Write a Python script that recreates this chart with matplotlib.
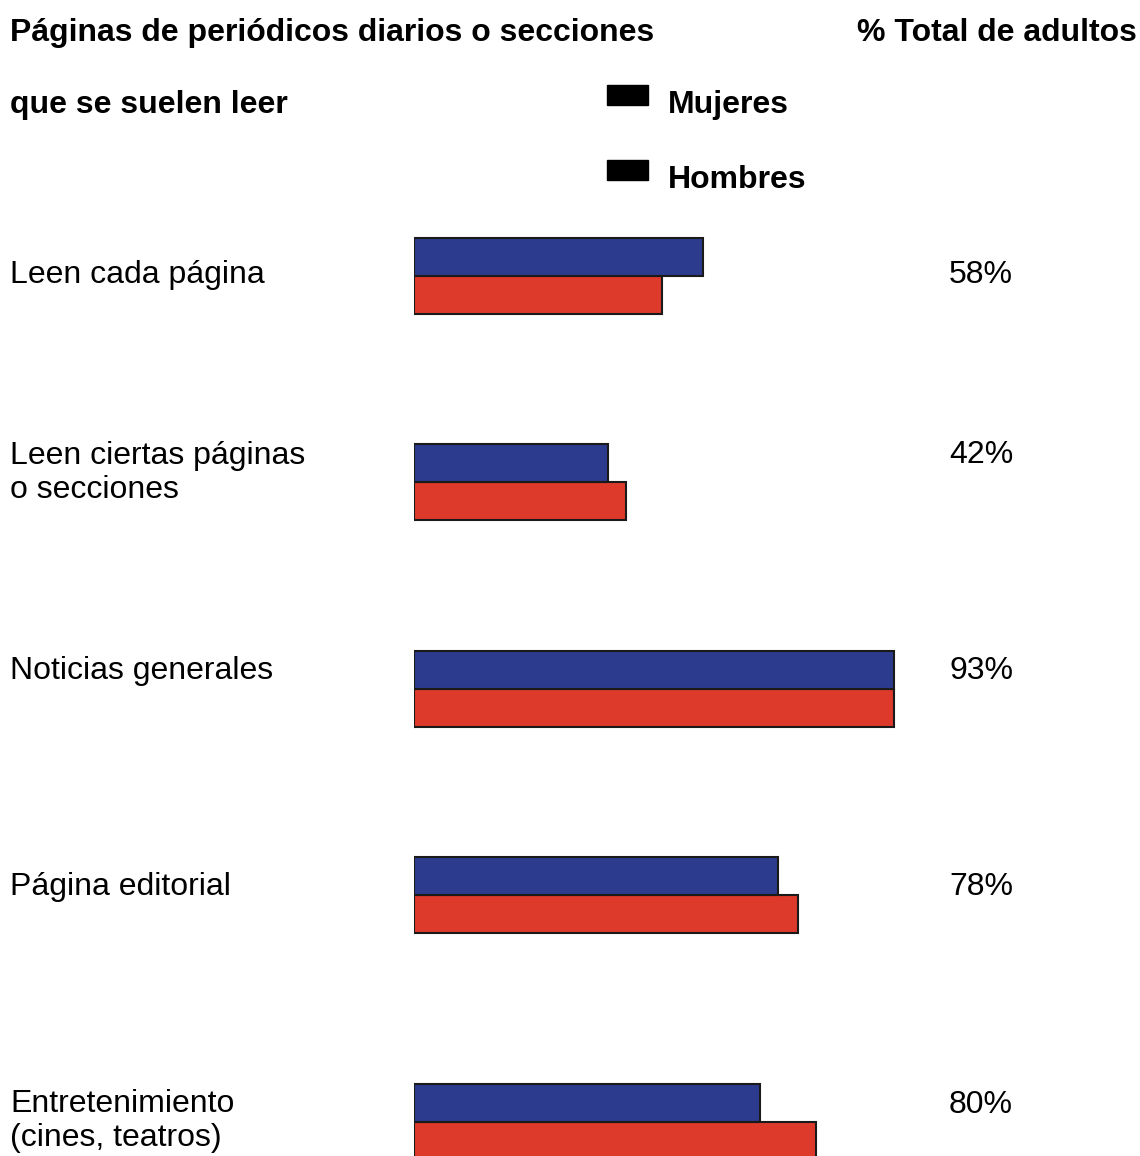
import matplotlib.pyplot as plt

categories = ['Leen cada página', 'Leen ciertas páginas\no secciones',
              'Noticias generales', 'Página editorial',
              'Entretenimiento\n(cines, teatros)']
mujeres = [56, 37.5, 93, 70.5, 67]
hombres = [48, 41, 93, 74.5, 78]
totales = ['58%', '42%', '93%', '78%', '80%']

W, H = 1140, 1156
plt.rcParams['font.family'] = ['Liberation Sans', 'DejaVu Sans']
FS = 23

fig = plt.figure(figsize=(W / 100, H / 100), dpi=100)
fig.patch.set_facecolor('white')

# axes: x in percent (0 at 414 px, 5.16 px per %), y in pixels from the top
PX_PER = 5.16
ax = fig.add_axes([414 / W, 0, 100 * PX_PER / W, 1])
ax.set_xlim(0, 100)
ax.set_ylim(H, 0)
ax.axis('off')

blue = '#2D3B8E'
red = '#DE3A2B'
edge = '#1a1a1a'

row_mid = [276, 482, 689, 895, 1122]   # split between the two bars
bar_h = 38
label_y = [275, 473, 671, 887, 1121]   # centre of the label block
total_y = [275, 455, 671, 887, 1105]

def xpct(xpix):
    return (xpix - 414) / PX_PER

for i, cat in enumerate(categories):
    ax.barh(row_mid[i] - bar_h / 2, mujeres[i], height=bar_h, color=blue,
            edgecolor=edge, linewidth=1.5, zorder=3)
    ax.barh(row_mid[i] + bar_h / 2, hombres[i], height=bar_h, color=red,
            edgecolor=edge, linewidth=1.5, zorder=2)
    ax.text(xpct(10), label_y[i], cat, fontsize=FS, va='center', ha='left',
            linespacing=1.17)
    ax.text(xpct(981), total_y[i], totales[i], fontsize=FS,
            va='center', ha='center')

def px(x, y):
    return x / W, 1 - y / H

# header texts
fig.text(*px(10, 33), 'Páginas de periódicos diarios o secciones',
         fontsize=FS, fontweight='bold', va='center', ha='left')
fig.text(*px(10, 105), 'que se suelen leer',
         fontsize=FS, fontweight='bold', va='center', ha='left')
fig.text(*px(1137, 33), '% Total de adultos',
         fontsize=FS, fontweight='bold', va='center', ha='right')

# legend (black swatches as in the scan)
for yy, lab in [(95, 'Mujeres'), (170, 'Hombres')]:
    fig.patches.append(plt.Rectangle(px(607, yy + 10), 41 / W, 20 / H,
                                     transform=fig.transFigure,
                                     facecolor='black', edgecolor='black'))
    fig.text(*px(668, yy + 10), lab, fontsize=FS, fontweight='bold',
             va='center', ha='left')

fig.savefig('out.png', dpi=100, facecolor='white')
